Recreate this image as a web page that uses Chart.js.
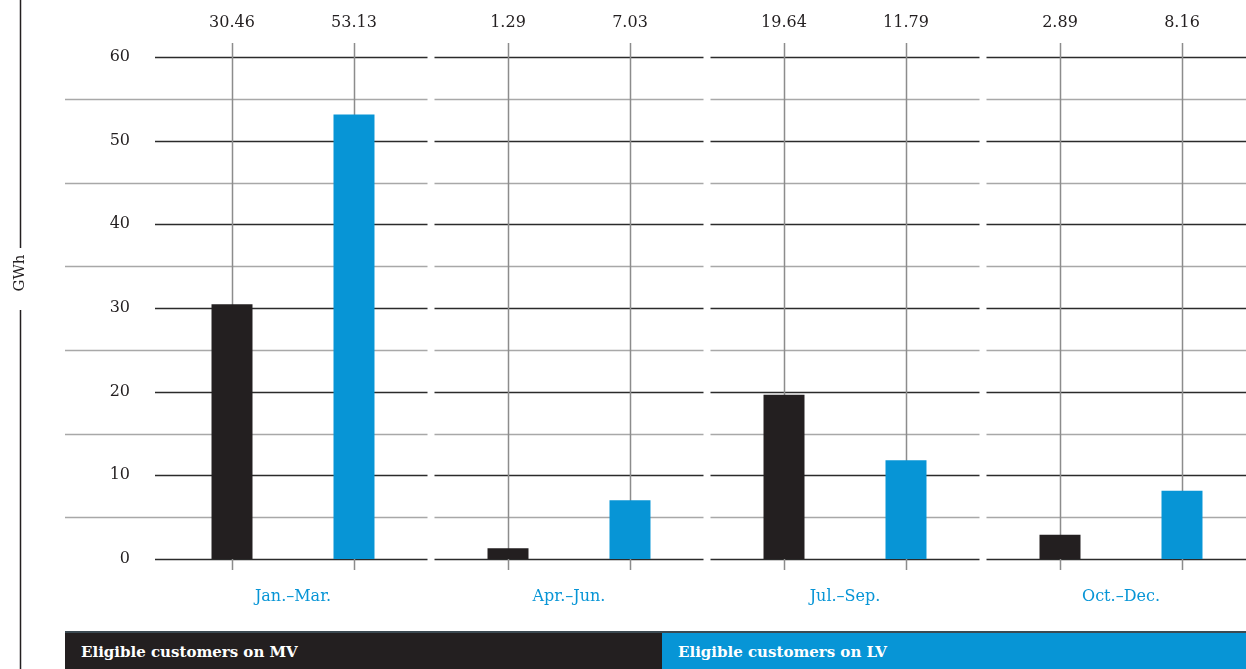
<!DOCTYPE html>
<html>
<head>
<meta charset="utf-8">
<script src="https://cdn.jsdelivr.net/npm/chart.js@4/dist/chart.umd.min.js"></script>
<style>
  html, body { margin: 0; padding: 0; background: #fff; overflow: hidden; width: 1246px; height: 669px; }
  #wrap { position: absolute; left: 0; top: 0; width: 1259px; height: 669px; }
  .legend { position: absolute; top: 631px; height: 38px; box-sizing: border-box; border-top: 2px solid #3c4a52;
            color: #fff; font: bold 15px "DejaVu Serif", serif; line-height: 38px; padding-left: 16px; }
</style>
</head>
<body>
<div id="wrap"><canvas id="chart"></canvas></div>
<div class="legend" style="left:65px; width:597px; background:#231f20;">Eligible customers on MV</div>
<div class="legend" style="left:662px; width:584px; background:#0795d6;">Eligible customers on LV</div>
<script>
// données
const categories = ['Jan.–Mar.', 'Apr.–Jun.', 'Jul.–Sep.', 'Oct.–Dec.'];
const mvValues = [30.46, 1.29, 19.64, 2.89];
const lvValues = [53.13, 7.03, 11.79, 8.16];
const yTicks = [0, 10, 20, 30, 40, 50, 60];

const darkColor = '#231f20';
const blueColor = '#0795d6';

// Grille, lignes verticales et titre de l'axe
const decorPlugin = {
  id: 'decor',
  beforeDatasetsDraw(chart) {
    const ctx = chart.ctx;
    const x = chart.scales.x, y = chart.scales.y;
    const area = chart.chartArea;
    // limites des groupes
    let bounds = [];
    for (let i = 0; i < categories.length; i++) {
      let left = i === 0 ? area.left : (x.getPixelForValue(i - 1) + x.getPixelForValue(i)) / 2 + 3.5;
      let right = i === categories.length - 1 ? area.right : (x.getPixelForValue(i) + x.getPixelForValue(i + 1)) / 2 - 3.5;
      bounds.push([left, right]);
    }
    ctx.save();
    for (let v = 0; v <= 60; v += 5) {
      let py = Math.round(y.getPixelForValue(v)) + 0.5;
      let major = v % 10 === 0;
      ctx.strokeStyle = major ? '#2b2b2b' : '#a8a8a8';
      ctx.lineWidth = 1.6;
      bounds.forEach((b, i) => {
        let left = i === 0 ? (major ? area.left : 65) : b[0];
        ctx.beginPath();
        ctx.moveTo(left, py);
        ctx.lineTo(b[1], py);
        ctx.stroke();
      });
    }
    // lignes verticales au centre des barres
    ctx.strokeStyle = '#8c8c8c';
    ctx.lineWidth = 1.5;
    [0, 1].forEach(d => {
      chart.getDatasetMeta(d).data.forEach(bar => {
        let px = Math.round(bar.x) + 0.5;
        ctx.beginPath();
        ctx.moveTo(px, area.top - 14);
        ctx.lineTo(px, area.bottom + 11);
        ctx.stroke();
      });
    });
    ctx.restore();
  },
  afterDatasetsDraw(chart) {
    const ctx = chart.ctx;
    ctx.save();
    // valeurs au-dessus
    ctx.fillStyle = '#231f20';
    ctx.font = '16px "DejaVu Serif", serif';
    ctx.textAlign = 'center';
    ctx.textBaseline = 'middle';
    [0, 1].forEach(d => {
      chart.getDatasetMeta(d).data.forEach((bar, i) => {
        ctx.fillText(chart.data.datasets[d].data[i].toFixed(2), bar.x, 23);
      });
    });
    // titre de l'axe Y + ligne
    ctx.strokeStyle = '#231f20';
    ctx.lineWidth = 1.5;
    ctx.beginPath();
    ctx.moveTo(20.5, 0); ctx.lineTo(20.5, 248);
    ctx.moveTo(20.5, 310); ctx.lineTo(20.5, 669);
    ctx.stroke();
    ctx.translate(20, 273);
    ctx.rotate(-Math.PI / 2);
    ctx.font = '15px "DejaVu Serif", serif';
    ctx.fillText('GWh', 0, 0);
    ctx.restore();
  }
};

new Chart(document.getElementById('chart'), {
  type: 'bar',
  data: {
    labels: categories,
    datasets: [
      { label: 'Eligible customers on MV', data: mvValues, backgroundColor: darkColor,
        categoryPercentage: 0.884, barPercentage: 0.336 },
      { label: 'Eligible customers on LV', data: lvValues, backgroundColor: blueColor,
        categoryPercentage: 0.884, barPercentage: 0.336 }
    ]
  },
  options: {
    responsive: true,
    maintainAspectRatio: false,
    animation: false,
    layout: { padding: { top: 57, left: 0, right: 0, bottom: 0 } },
    plugins: { legend: { display: false }, tooltip: { enabled: false } },
    scales: {
      x: {
        grid: { display: false, drawTicks: false },
        border: { display: false },
        ticks: { color: blueColor, font: { family: '"DejaVu Serif", serif', size: 16 }, padding: 28 },
        afterFit: s => { s.height = 110; }
      },
      y: {
        min: 0, max: 60,
        afterBuildTicks: s => { s.ticks = yTicks.map(v => ({ value: v })); },
        grid: { display: false, drawTicks: false },
        border: { display: false },
        ticks: { color: '#231f20', font: { family: '"DejaVu Serif", serif', size: 16 }, padding: 25 },
        afterFit: s => { s.width = 155; }
      }
    }
  },
  plugins: [decorPlugin]
});
</script>
</body>
</html>
